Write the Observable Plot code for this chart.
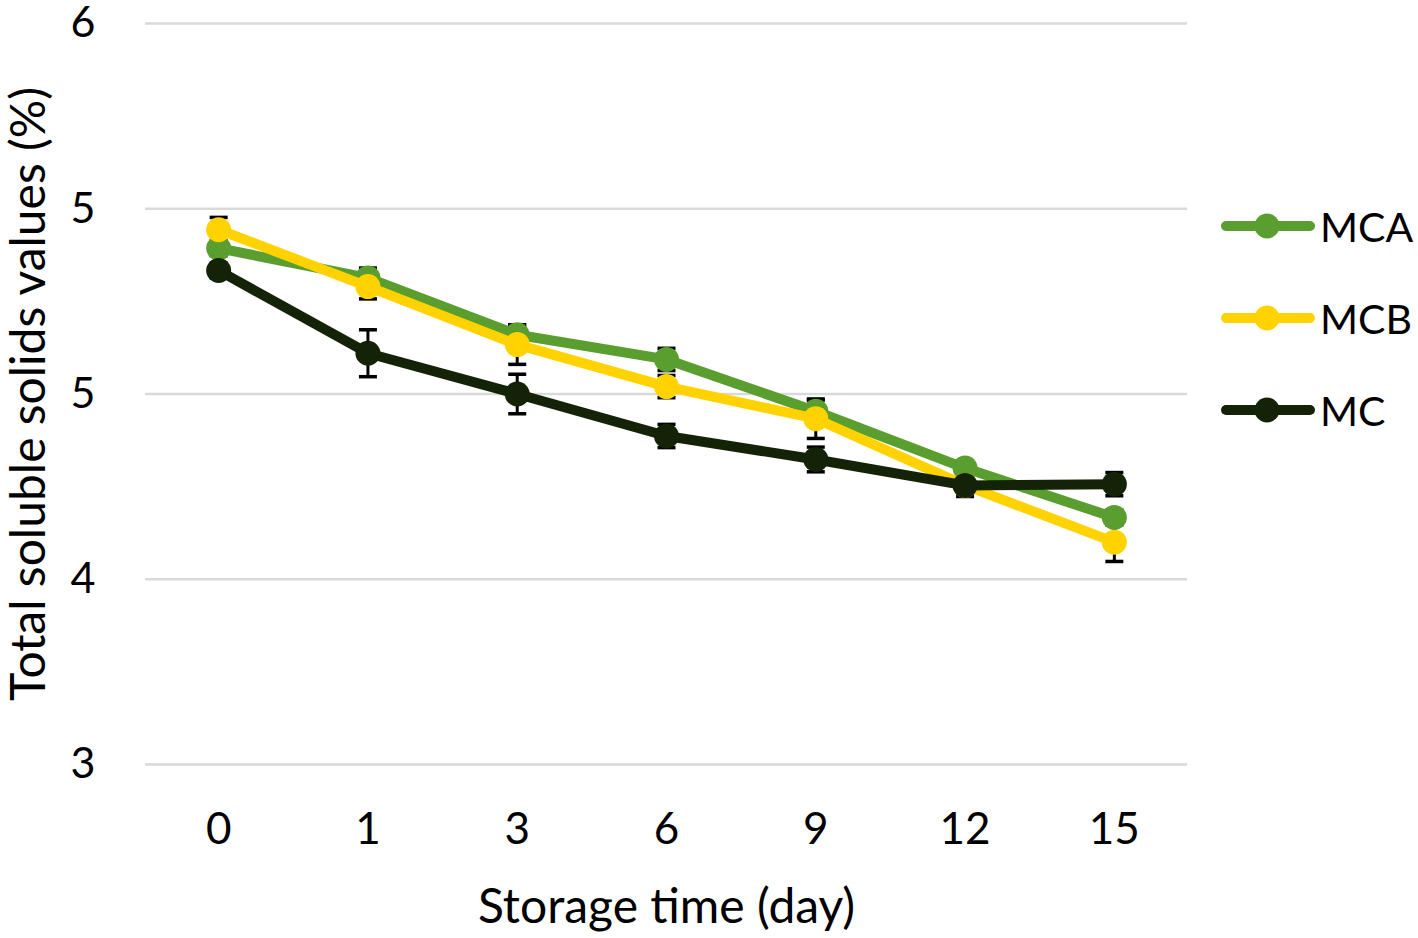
<!DOCTYPE html>
<html>
<head>
<meta charset="utf-8">
<script src="https://cdn.jsdelivr.net/npm/d3@7"></script>
<script src="https://cdn.jsdelivr.net/npm/@observablehq/plot@0.6"></script>
<style>
  html, body { margin: 0; padding: 0; background: #fff; }
  #wrap { position: relative; width: 1418px; height: 938px; font-family: Lato, "Open Sans", sans-serif; }
  #wrap svg { overflow: visible; }
  #legend { position: absolute; left: 1218px; top: 0; }
  .item { position: absolute; display: flex; align-items: center; white-space: nowrap; font-size: 41px; color: #000; }
</style>
</head>
<body>
<div id="wrap"><div id="legend"></div></div>
<script>
const days = ["0", "1", "3", "6", "9", "12", "15"];
const seriesNames = ["MCA", "MCB", "MC"];
const seriesColors = ["#5a9e2f", "#ffd200", "#142208"];
const mca = [5.09, 4.97, 4.74, 4.64, 4.43, 4.20, 4.00];
const mcb = [5.165, 4.935, 4.70, 4.53, 4.40, 4.13, 3.90];
const mc  = [5.00, 4.665, 4.50, 4.33, 4.235, 4.13, 4.135];
const mcaErr = [0.03, 0.04, 0.04, 0.045, 0.045, 0.03, 0.03];
const mcbErr = [0.05, 0.05, 0.08, 0.045, 0.08, 0.03, 0.078];
const mcErr  = [0.03, 0.095, 0.08, 0.047, 0.05, 0.045, 0.047];
const yTicks = [6, 5.25, 4.5, 3.75, 3];
const yTickLabels = ["6", "5", "5", "4", "3"];

const values = [mca, mcb, mc];
const errs = [mcaErr, mcbErr, mcErr];
const data = [];
seriesNames.forEach((s, i) => days.forEach((d, j) => data.push({series: s, day: d, v: values[i][j], e: errs[i][j]})));

const capSymbol = {
  draw(ctx, size) {
    const w = Math.sqrt(size / Math.PI);
    ctx.moveTo(-w, 0);
    ctx.lineTo(w, 0);
  }
};

const marks = [
  Plot.ruleY(yTicks, {stroke: "#d9d9d9", strokeWidth: 2.5}),
  Plot.axisY({ticks: yTicks, tickFormat: (d) => yTickLabels[yTicks.indexOf(d)], tickSize: 0, tickPadding: 50,
    fontSize: 43, label: null}),
  Plot.axisY({ticks: [], tickSize: 0, fontSize: 48, label: "Total soluble solids values (%)", labelAnchor: "center", labelOffset: 135, labelArrow: false}),
  Plot.axisX({tickSize: 0, tickPadding: 48, fontSize: 44, label: null}),
  Plot.axisX({ticks: [], tickSize: 0, fontSize: 48, label: "Storage time (day)", labelAnchor: "center", labelOffset: 158, labelArrow: false}),
  // error bars drawn beneath the series
  Plot.ruleX(data, {x: "day", y1: d => d.v - d.e, y2: d => d.v + d.e, stroke: "#000", strokeWidth: 3}),
  Plot.dot(data, {x: "day", y: d => d.v + d.e, r: 9, symbol: capSymbol, stroke: "#000", strokeWidth: 3.5}),
  Plot.dot(data, {x: "day", y: d => d.v - d.e, r: 9, symbol: capSymbol, stroke: "#000", strokeWidth: 3.5})
];
seriesNames.forEach((s, i) => {
  const sub = data.filter(d => d.series === s);
  marks.push(
    Plot.line(sub, {x: "day", y: "v", stroke: seriesColors[i], strokeWidth: 10, strokeLinejoin: "round"}),
    Plot.dot(sub, {x: "day", y: "v", r: 12.5, fill: seriesColors[i]})
  );
});

const chart = Plot.plot({
  width: 1418,
  height: 938,
  marginLeft: 145,
  marginRight: 231,
  marginTop: 23,
  marginBottom: 174,
  style: {fontFamily: "Lato, 'Open Sans', sans-serif", fontSize: "44px", color: "#000", background: "#fff", overflow: "visible"},
  x: {type: "point", domain: days, padding: 0.49, round: false, label: null},
  y: {domain: [3, 6], label: null},
  marks
});
document.getElementById("wrap").prepend(chart);

const legend = document.getElementById("legend");
const rowsY = [226, 318, 410];
seriesNames.forEach((s, i) => {
  const item = document.createElement("div");
  item.className = "item";
  item.style.top = (rowsY[i] - 25) + "px";
  item.innerHTML = `<svg width="100" height="50" style="margin-right:2px"><line x1="8" y1="25" x2="92" y2="25" stroke="${seriesColors[i]}" stroke-width="10" stroke-linecap="round"/><circle cx="49" cy="25" r="12.5" fill="${seriesColors[i]}"/></svg><span>${s}</span>`;
  legend.appendChild(item);
});
</script>
</body>
</html>
